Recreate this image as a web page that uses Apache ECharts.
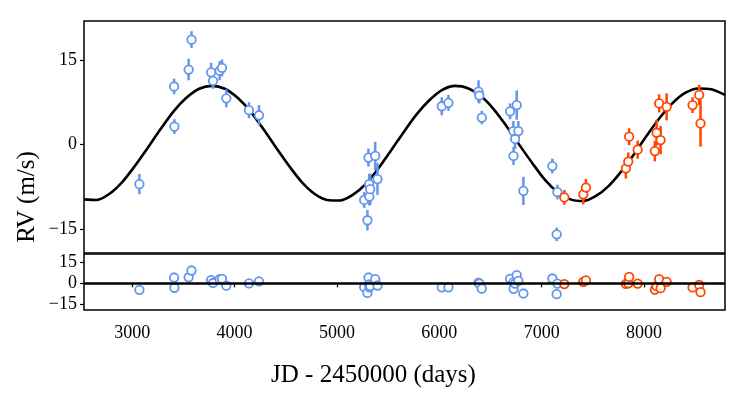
<!DOCTYPE html>
<html>
<head>
<meta charset="utf-8">
<script src="https://cdn.jsdelivr.net/npm/echarts@6/dist/echarts.min.js"></script>
<style>
  html, body { margin: 0; padding: 0; background: #fff; }
  #chart { width: 747px; height: 395px; }
</style>
</head>
<body>
<div id="chart"></div>
<script>
// instrument 1 (blue)
var blueJD  = [3071, 3410, 3413, 3552, 3580, 3771, 3790, 3855, 3878, 3920, 4141, 4239,
               5266, 5298, 5308, 5315, 5317, 5325, 5374, 5396, 6024, 6089, 6383, 6391,
               6415, 6691, 6723, 6725, 6740, 6756, 6772, 6821, 7104, 7146, 7153];
var blueRV  = [-7.0, 10.3, 3.2, 13.3, 18.6, 12.8, 11.3, 13.1, 13.6, 8.2, 6.1, 5.2,
               -9.8, -13.4, -2.3, -7.0, -9.2, -7.9, -2.0, -6.1, 6.8, 7.4, 9.4, 8.7,
               4.8, 5.9, 2.4, -2.0, 1.0, 7.0, 2.4, -8.2, -3.8, -15.9, -8.4];
var blueErr = [1.8, 1.4, 1.3, 1.9, 1.5, 1.7, 1.4, 1.7, 1.5, 1.6, 1.4, 1.8,
               1.4, 1.8, 1.6, 1.8, 1.6, 2.8, 2.5, 2.8, 1.6, 1.4, 2.0, 1.4,
               1.2, 1.4, 1.8, 1.6, 1.8, 2.6, 1.8, 2.5, 1.3, 1.2, 1.3];
var blueRes = [-4.6, 4.2, -3.1, 4.4, 9.2, 2.3, 0.3, 3.0, 3.3, -1.6, 0.0, 1.5,
               -2.6, -6.8, 4.2, -0.8, -2.9, -1.9, 3.0, -1.5, -2.8, -2.8, 0.5, -0.2,
               -3.8, 3.2, 0.8, -3.9, -0.1, 5.9, 1.8, -7.2, 3.5, -7.7, -0.1];

// instrument 2 (orange)
var redJD  = [7221, 7406, 7432, 7822, 7845, 7854, 7937, 8105, 8122, 8147, 8161, 8220, 8473, 8538, 8551];
var redRV  = [-9.35, -8.8, -7.6, -4.2, -3.0, 1.4, -0.9, -1.15, 2.1, 7.3, 0.8, 6.7, 7.0, 8.8, 3.75];
var redErr = [1.3, 1.8, 1.5, 1.8, 1.6, 1.5, 1.6, 1.8, 2.3, 1.6, 2.5, 2.4, 1.4, 1.8, 4.1];
var redRes = [-0.5, 1.1, 2.1, -0.4, 0.1, 4.6, -0.1, -4.4, -2.0, 3.0, -3.4, 1.1, -2.9, -1.1, -6.3];

// model curve
var modelJD = [2530, 2655, 2780, 2905, 3030, 3155, 3280, 3405, 3530, 3655, 3780, 3905, 4030,
               4155, 4280, 4405, 4530, 4655, 4780, 4905, 5030, 5155, 5280, 5405, 5530, 5655,
               5780, 5905, 6030, 6155, 6280, 6405, 6530, 6655, 6780, 6905, 7030, 7155, 7280,
               7405, 7530, 7655, 7780, 7905, 8030, 8155, 8280, 8405, 8530, 8655, 8780, 8790];
var modelRV = [-9.7, -9.8, -8.7, -6.6, -3.7, -0.5, 2.8, 5.9, 8.3, 9.9, 10.4, 9.9, 8.3,
               5.9, 2.8, -0.5, -3.7, -6.6, -8.7, -9.8, -9.9, -8.9, -7.0, -4.2, -1.0, 2.3,
               5.4, 7.9, 9.7, 10.4, 10.0, 8.6, 6.3, 3.3, 0.0, -3.2, -6.2, -8.4, -9.7,
               -10.0, -9.1, -7.3, -4.7, -1.6, 1.7, 4.8, 7.4, 9.2, 9.95, 9.8, 8.9, 8.75];

var xTicks = [3000, 4000, 5000, 6000, 7000, 8000];
var yTicks = [-15, 0, 15];

var BLUE = '#6495ED';
var RED = '#FF4500';
var FONT = "'Liberation Serif', 'DejaVu Serif', serif";

function pairs(xs, ys) { return xs.map(function (x, i) { return [x, ys[i]]; }); }
function triples(xs, ys, es) { return xs.map(function (x, i) { return [x, ys[i], es[i]]; }); }

function errBar(color) {
  return function (params, api) {
    var x = api.value(0), y = api.value(1), e = api.value(2);
    var p1 = api.coord([x, y - e]);
    var p2 = api.coord([x, y + e]);
    return {
      type: 'line',
      shape: { x1: p1[0], y1: p1[1], x2: p2[0], y2: p2[1] },
      style: { stroke: color, lineWidth: 2.5 }
    };
  };
}

function yLabel(v) { return v < 0 ? '\u2212' + Math.abs(v) : String(v); }

var chart = echarts.init(document.getElementById('chart'));
var xBase = {
  type: 'value', min: 2530, max: 8790,
  axisLine: { show: false }, splitLine: { show: false }
};
var yBase = {
  type: 'value',
  axisLine: { show: false }, splitLine: { show: false },
  axisTick: { show: true, inside: false, length: 4, customValues: yTicks, lineStyle: { color: '#000', width: 1.2 } },
  axisLabel: { customValues: yTicks, formatter: yLabel, color: '#000', fontFamily: FONT, fontSize: 18, margin: 7 }
};

function dot(color) {
  return { color: '#fff', borderColor: color, borderWidth: 1.8, opacity: 1 };
}

chart.setOption({
  animation: false,
  backgroundColor: '#fff',
  grid: [
    { left: 84, top: 21, width: 641, height: 232, show: true, borderColor: '#000', borderWidth: 1.5, backgroundColor: 'transparent' },
    { left: 84, top: 254, width: 641, height: 56, show: true, borderColor: '#000', borderWidth: 1.5, backgroundColor: 'transparent' }
  ],
  xAxis: [
    Object.assign({}, xBase, { gridIndex: 0, axisTick: { show: false }, axisLabel: { show: false } }),
    Object.assign({}, xBase, {
      gridIndex: 1,
      axisTick: { show: true, length: 4, customValues: xTicks, lineStyle: { color: '#000', width: 1.2 } },
      axisLabel: { customValues: xTicks, formatter: function (v) { return String(v); }, color: '#000', fontFamily: FONT, fontSize: 18, margin: 14 }
    })
  ],
  yAxis: [
    Object.assign({}, yBase, { gridIndex: 0, min: -19.2, max: 21.9 }),
    Object.assign({}, yBase, { gridIndex: 1, min: -19, max: 21 })
  ],
  graphic: [
    { type: 'text', left: 'center', top: 363, style: { text: 'JD - 2450000 (days)', font: '25px ' + FONT, fill: '#000' } },
    { type: 'text', x: 27, y: 197, rotation: Math.PI / 2, style: { text: 'RV (m/s)', font: '25px ' + FONT, fill: '#000', align: 'center', verticalAlign: 'middle' } }
  ],
  series: [
    {
      type: 'line', xAxisIndex: 0, yAxisIndex: 0, data: pairs(modelJD, modelRV),
      smooth: 0.3, showSymbol: false, lineStyle: { color: '#000', width: 2.6 }, z: 2
    },
    { type: 'custom', xAxisIndex: 0, yAxisIndex: 0, data: triples(blueJD, blueRV, blueErr), renderItem: errBar(BLUE), z: 3 },
    { type: 'custom', xAxisIndex: 0, yAxisIndex: 0, data: triples(redJD, redRV, redErr), renderItem: errBar(RED), z: 3 },
    {
      type: 'scatter', xAxisIndex: 0, yAxisIndex: 0, data: pairs(blueJD, blueRV), symbol: 'circle', symbolSize: 8.5,
      itemStyle: dot(BLUE), z: 4
    },
    {
      type: 'scatter', xAxisIndex: 0, yAxisIndex: 0, data: pairs(redJD, redRV), symbol: 'circle', symbolSize: 8.5,
      itemStyle: dot(RED), z: 4
    },
    {
      type: 'scatter', xAxisIndex: 1, yAxisIndex: 1, data: pairs(blueJD, blueRes), symbol: 'circle', symbolSize: 8.5,
      itemStyle: dot(BLUE), z: 4,
      markLine: {
        silent: true, symbol: 'none', label: { show: false },
        lineStyle: { color: '#000', width: 2.6, type: 'solid' },
        data: [{ yAxis: 0 }]
      }
    },
    {
      type: 'scatter', xAxisIndex: 1, yAxisIndex: 1, data: pairs(redJD, redRes), symbol: 'circle', symbolSize: 8.5,
      itemStyle: dot(RED), z: 4
    }
  ]
});
</script>
</body>
</html>
